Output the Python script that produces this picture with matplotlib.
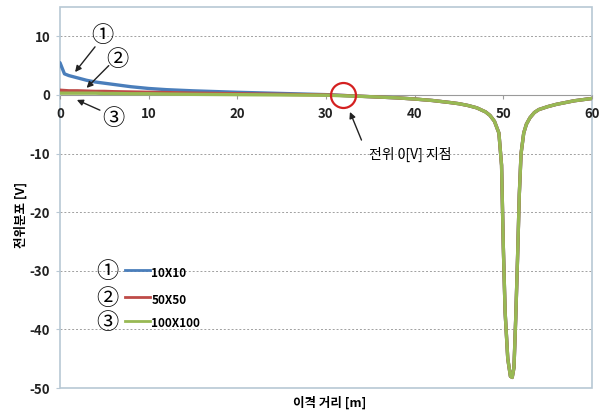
import matplotlib.pyplot as plt
from matplotlib.patches import Rectangle

plt.rcParams['font.family'] = ['Noto Sans CJK KR', 'DejaVu Sans']
plt.rcParams['axes.unicode_minus'] = False

# distance from the electrode [m]
dist = [0, 0.5, 1, 2, 3, 4, 5, 6, 8, 10, 12, 15, 20, 25, 30, 32,
        35, 38, 40, 42, 44, 45, 46, 47, 48, 48.5, 49, 49.5, 49.8, 50, 50.2,
        50.5, 50.8, 51, 51.2, 51.4, 51.6, 51.8, 52, 52.3, 52.6, 53, 53.5,
        54, 55, 56, 57, 58, 59, 60]

# common part of all three curves (x >= 35)
tail = [-0.3, -0.5, -0.7, -0.95, -1.3, -1.5, -1.8, -2.2, -2.9, -3.5, -4.5,
        -6.5, -12, -26, -37, -45, -48, -48.2, -46.5, -38, -28, -17, -10,
        -6.5, -5.0, -3.9, -3.0, -2.5, -2.0, -1.6, -1.3, -1.0, -0.8, -0.6]

v_10 = [5.5, 3.6, 3.3, 2.9, 2.5, 2.2, 2.0, 1.8, 1.4, 1.1, 0.9, 0.7, 0.45,
        0.25, 0.05, -0.1] + tail
v_50 = [0.8, 0.75, 0.7, 0.7, 0.65, 0.6, 0.6, 0.55, 0.5, 0.45, 0.4, 0.3, 0.2,
        0.1, 0.0, -0.1] + tail
v_100 = [0.3, 0.3, 0.3, 0.3, 0.3, 0.3, 0.25, 0.25, 0.2, 0.2, 0.15, 0.1, 0.05,
         0.0, -0.05, -0.15] + tail

labels = ['10X10', '50X50', '100X100']
marks = ['①', '②', '③']
colors = ['#4a7ebb', '#be4b48', '#98b954']

fig = plt.figure(figsize=(6.04, 4.16), dpi=100)
ax = fig.add_axes([60 / 604, 28 / 416, 532 / 604, 381 / 416])

for vals, lab, col in zip([v_10, v_50, v_100], labels, colors):
    ax.plot(dist, vals, color=col, lw=2.4, label=lab, solid_capstyle='round')

ax.set_xlim(0, 60)
ax.set_ylim(-50, 15)
ax.set_xticks(range(0, 61, 10))
ax.set_yticks(range(-50, 11, 10))
for y in [10, -10, -20, -30, -40]:
    ax.axhline(y, color='#a0a0a0', lw=0.7, ls=(0, (2, 2)), zorder=0)

for s in ['top', 'right', 'left']:
    ax.spines[s].set_visible(False)
ax.spines['bottom'].set_position(('data', 0))
ax.spines['bottom'].set_color('#9a9a9a')
ax.spines['bottom'].set_zorder(0.5)
ax.add_patch(Rectangle((0, 0), 1, 1, transform=ax.transAxes, fill=False,
                       ec='#b8c8d4', lw=1.2, clip_on=False))
ax.tick_params(axis='x', length=3, color='#9a9a9a', pad=6)
ax.tick_params(axis='y', length=3, color='#b8c8d4', pad=4)
for t in ax.get_xticklabels() + ax.get_yticklabels():
    t.set_fontweight('bold')
    t.set_fontsize(9.5)
    t.set_color('#222222')

fig.text(0.546, 0.031, '이격 거리 [m]', fontsize=9, fontweight='bold',
         ha='center', va='center')
fig.text(0.035, 0.483, '전위분포 [V]', fontsize=9, fontweight='bold',
         ha='center', va='center', rotation=90)

arrow = dict(arrowstyle='-|>', mutation_scale=9, color='#222222', lw=1.0,
             shrinkA=0, shrinkB=0)

def callout(text, pos, tail_xy, head_xy, size=16):
    ax.text(pos[0], pos[1], text, fontsize=size, ha='center', va='center')
    ax.annotate('', xy=head_xy, xytext=tail_xy, arrowprops=arrow)

# numbered callouts near the origin
callout('①', (4.8, 10.2), (3.95, 8.2), (1.7, 3.9))
callout('②', (6.5, 6.0), (5.5, 5.0), (3.0, 1.2))
callout('③', (6.0, -4.1), (4.5, -2.6), (1.9, -0.85))

# point where the potential crosses zero
ax.plot([31.9], [0], 'o', ms=18, mfc='none', mec='#d42020', mew=1.6,
        zorder=5)
ax.text(34.8, -10.2, '전위 0[V] 지점', fontsize=10, ha='left', va='center')
ax.annotate('', xy=(32.7, -2.9), xytext=(34.0, -7.7), arrowprops=arrow)

# legend drawn by hand with circled numbers
leg_y = [-30.2, -34.8, -38.8]
for yy, lab, col, m in zip(leg_y, labels, colors, marks):
    ax.text(5.3, yy, m, fontsize=16, ha='center', va='center')
    ax.plot([7.3, 10.1], [yy + 0.3, yy + 0.3], color=col, lw=2)
    ax.text(10.3, yy - 0.2, lab, fontsize=8.5, fontweight='bold',
            ha='left', va='center')

fig.savefig('out.png', dpi=100)
